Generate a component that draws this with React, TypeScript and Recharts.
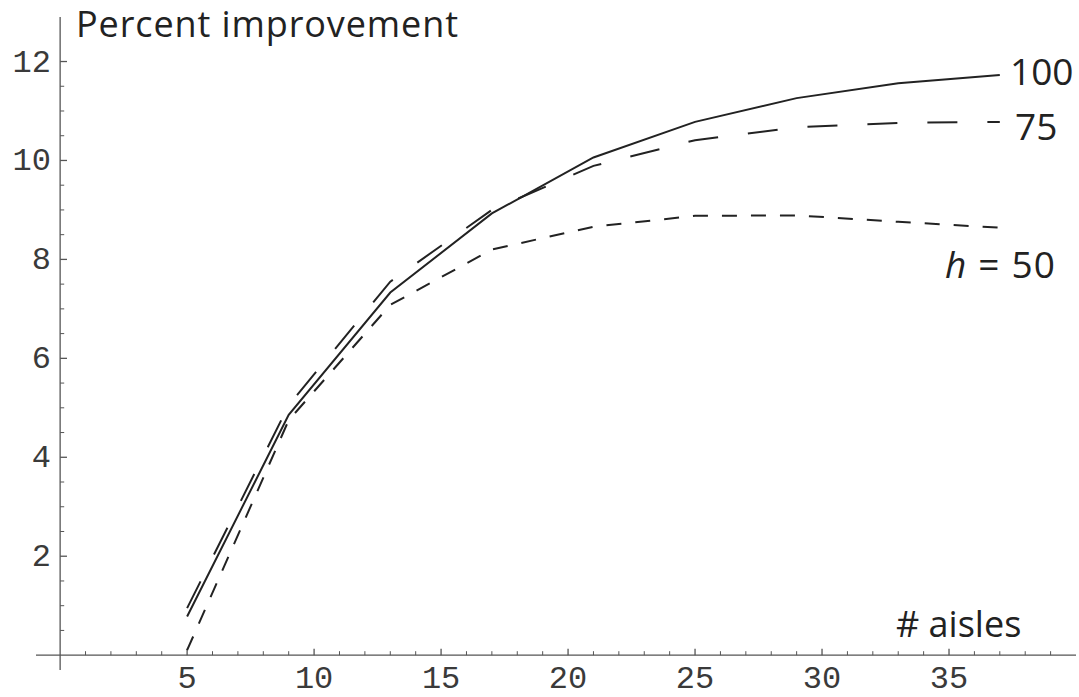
import { LineChart, Line, XAxis, YAxis, ReferenceLine } from 'recharts';

// number of aisles (x) and percent improvement for each h
const aisles = [5, 9, 13, 17, 21, 25, 29, 33, 37];
const h100 = [0.78, 4.86, 7.33, 8.93, 10.06, 10.78, 11.26, 11.56, 11.73];
const h75 = [0.95, 5.05, 7.55, 9.0, 9.89, 10.41, 10.67, 10.76, 10.78];
const h50 = [0.1, 4.75, 7.08, 8.2, 8.66, 8.88, 8.89, 8.76, 8.64];

const xMajorTicks = [5, 10, 15, 20, 25, 30, 35];
const xMinorTicks = [1, 2, 3, 4, 6, 7, 8, 9, 11, 12, 13, 14, 16, 17, 18, 19, 21, 22, 23, 24, 26, 27, 28, 29, 31, 32, 33, 34, 36, 37, 38, 39];
const yMajorTicks = [2, 4, 6, 8, 10, 12];
const yMinorTicks = [0.5, 1, 1.5, 2.5, 3, 3.5, 4.5, 5, 5.5, 6.5, 7, 7.5, 8.5, 9, 9.5, 10.5, 11, 11.5];

const data = aisles.map((a, i) => ({ aisles: a, h100: h100[i], h75: h75[i], h50: h50[i] }));

const AXIS = '#555';
const INK = '#222';
const MONO = '"Liberation Mono", "DejaVu Sans Mono", monospace';
const SANS = '"Open Sans", "Noto Sans", sans-serif';

const XTick = (props: any) => (
  <text x={props.x} y={props.y + 18} textAnchor="middle" fontFamily={MONO} fontSize={32} fill="#3a3a3a">
    {props.payload.value}
  </text>
);

const YTick = (props: any) => (
  <text x={props.x + 15} y={props.y + 10} textAnchor="end" fontFamily={MONO} fontSize={32} fill="#3a3a3a">
    {props.payload.value}
  </text>
);

export default function App() {
  return (
    <div style={{ position: 'absolute', left: 0, top: 0, width: 1079, height: 697, background: '#fff' }}>
      <LineChart width={1079} height={697} data={data} margin={{ top: 17, right: 3, left: 0, bottom: 0 }}>
        <XAxis
          type="number"
          dataKey="aisles"
          domain={[-0.95, 40]}
          allowDataOverflow
          ticks={xMajorTicks}
          axisLine={false}
          tickLine={false}
          tickSize={0}
          tickMargin={0}
          height={27}
          tick={<XTick />}
        />
        <YAxis
          type="number"
          domain={[-0.3, 12.9]}
          allowDataOverflow
          ticks={yMajorTicks}
          axisLine={false}
          tickLine={false}
          tickSize={0}
          tickMargin={0}
          width={36}
          tick={<YTick />}
        />
        <ReferenceLine y={0} stroke={AXIS} strokeWidth={1.3} />
        <ReferenceLine x={0} stroke={AXIS} strokeWidth={1.3} />
        {xMajorTicks.map((t) => (
          <ReferenceLine key={'xM' + t} segment={[{ x: t, y: 0 }, { x: t, y: 0.13 }]} stroke={AXIS} strokeWidth={1.3} />
        ))}
        {xMinorTicks.map((t) => (
          <ReferenceLine key={'xm' + t} segment={[{ x: t, y: 0 }, { x: t, y: 0.08 }]} stroke={AXIS} strokeWidth={1} />
        ))}
        {yMajorTicks.map((t) => (
          <ReferenceLine key={'yM' + t} segment={[{ x: 0, y: t }, { x: 0.27, y: t }]} stroke={AXIS} strokeWidth={1.3} />
        ))}
        {yMinorTicks.map((t) => (
          <ReferenceLine key={'ym' + t} segment={[{ x: 0, y: t }, { x: 0.16, y: t }]} stroke={AXIS} strokeWidth={1} />
        ))}
        <Line type="linear" dataKey="h100" stroke={INK} strokeWidth={2} dot={false} isAnimationActive={false} />
        <Line type="linear" dataKey="h75" stroke={INK} strokeWidth={2} strokeDasharray="30 30" dot={false} isAnimationActive={false} />
        <Line type="linear" dataKey="h50" stroke={INK} strokeWidth={2} strokeDasharray="15 14" dot={false} isAnimationActive={false} />
      </LineChart>
      <svg width={1079} height={697} style={{ position: 'absolute', left: 0, top: 0, pointerEvents: 'none' }}>
        <g fontFamily={SANS} fill={INK}>
          <text x={76} y={37} fontSize={36} textLength={382} lengthAdjust="spacing">Percent improvement</text>
          <text x={1010} y={85} fontSize={37}>100</text>
          <text x={1015} y={140} fontSize={37}>75</text>
          <text x={945} y={278} fontSize={37} textLength={110} lengthAdjust="spacing">
            <tspan fontStyle="italic">h</tspan> = 50
          </text>
          <text x={896} y={637} fontSize={36}># aisles</text>
        </g>
      </svg>
    </div>
  );
}
